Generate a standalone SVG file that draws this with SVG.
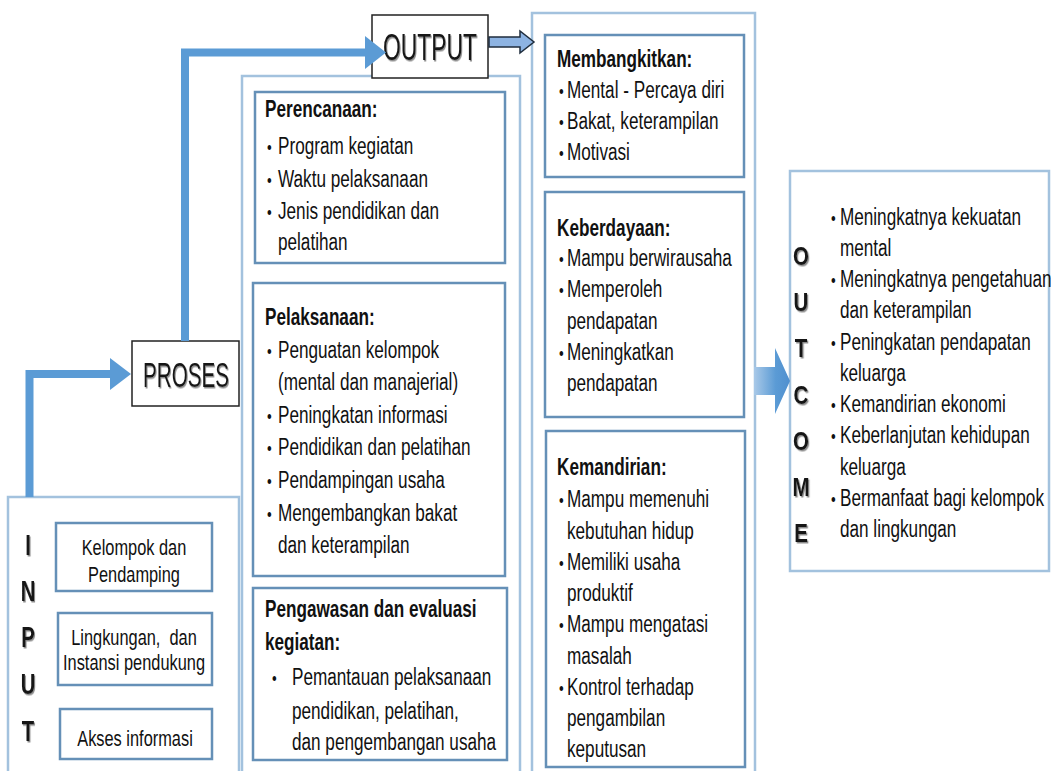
<svg xmlns="http://www.w3.org/2000/svg" width="1051" height="771" viewBox="0 0 1051 771">
<defs>
<style>
.t{font-family:"Liberation Sans",Arial,sans-serif;font-size:23px;fill:#111}
.h{font-weight:bold}
.b{font-size:18px}
.in{font-size:22px}
.big{font-family:"Liberation Sans",Arial,sans-serif;fill:#141414}
.outer{fill:none;stroke:#a3c2de;stroke-width:2.5}
.inner{fill:#fff;stroke:#6590b7;stroke-width:2.5}
.lbl{fill:#fff;stroke:#222;stroke-width:1.5}
.flow{fill:none;stroke:#5b9bd5;stroke-width:8;stroke-linejoin:miter}
.head{fill:#5b9bd5}
</style>
<filter id="sh" x="-20%" y="-20%" width="150%" height="150%">
<feDropShadow dx="1.5" dy="1.5" stdDeviation="0.6" flood-color="#808080" flood-opacity="0.9"/>
</filter>
<linearGradient id="ga" x1="0" y1="0" x2="1" y2="0">
<stop offset="0" stop-color="#a9c9e8"/>
<stop offset="0.6" stop-color="#5b9bd5"/>
<stop offset="1" stop-color="#4f8fcf"/>
</linearGradient>
</defs>
<rect width="1051" height="771" fill="#fff"/>

<g id="process-container"><rect class="outer" x="242" y="76" width="278" height="720"/></g>
<g id="output-container"><rect class="outer" x="532" y="13" width="223" height="780"/></g>

<g id="input">
<rect class="outer" x="8" y="497" width="231" height="300"/>
<g class="big" font-size="29" font-weight="bold" filter="url(#sh)" text-anchor="middle" transform="translate(28 0) scale(0.7 1)">
<text y="555">I</text>
<text y="601">N</text>
<text y="647">P</text>
<text y="694">U</text>
<text y="741">T</text>
</g>
</g>

<g id="input-kelompok">
<rect class="inner" x="56" y="523" width="156" height="68"/>
<g class="t in" text-anchor="middle" transform="translate(134 0) scale(0.745 1)">
<text x="0" y="555">Kelompok dan</text>
<text x="0" y="582">Pendamping</text>
</g>
</g>
<g id="input-lingkungan">
<rect class="inner" x="58" y="613" width="154" height="72"/>
<g class="t in" text-anchor="middle" transform="translate(134 0) scale(0.745 1)">
<text x="0" y="645" xml:space="preserve">Lingkungan,  dan</text>
<text x="0" y="670">Instansi pendukung</text>
</g>
</g>
<g id="input-akses">
<rect class="inner" x="60" y="709" width="152" height="50"/>
<g class="t in" text-anchor="middle" transform="translate(135 0) scale(0.745 1)">
<text x="0" y="746">Akses informasi</text>
</g>
</g>

<g id="proses">
<rect class="lbl" x="132" y="341" width="107" height="65"/>
<text class="big" font-size="35" text-anchor="middle" filter="url(#sh)" transform="translate(186 387) scale(0.59 1)">PROSES</text>
</g>

<g id="output">
<rect class="lbl" x="372" y="15" width="116" height="63"/>
<text class="big" font-size="36" text-anchor="middle" filter="url(#sh)" transform="translate(430 60) scale(0.635 1)">OUTPUT</text>
</g>

<g id="perencanaan">
<rect class="inner" x="255" y="92" width="250" height="171"/>
<g class="t" transform="translate(265 0) scale(0.746 1)">
<text class="h" x="0" y="117">Perencanaan:</text>
<text y="154"><tspan class="b" x="2.7">•</tspan><tspan x="17.4">Program kegiatan</tspan></text>
<text y="187"><tspan class="b" x="2.7">•</tspan><tspan x="17.4">Waktu pelaksanaan</tspan></text>
<text y="219"><tspan class="b" x="2.7">•</tspan><tspan x="17.4">Jenis pendidikan dan</tspan></text>
<text x="17.4" y="250">pelatihan</text>
</g>
</g>

<g id="pelaksanaan">
<rect class="inner" x="253" y="283" width="252" height="293"/>
<g class="t" transform="translate(265 0) scale(0.746 1)">
<text class="h" x="0" y="325">Pelaksanaan:</text>
<text y="357.6"><tspan class="b" x="2.7">•</tspan><tspan x="17.4">Penguatan kelompok</tspan></text>
<text x="17.4" y="390">(mental dan manajerial)</text>
<text y="422.7"><tspan class="b" x="2.7">•</tspan><tspan x="17.4">Peningkatan informasi</tspan></text>
<text y="455"><tspan class="b" x="2.7">•</tspan><tspan x="17.4">Pendidikan dan pelatihan</tspan></text>
<text y="488"><tspan class="b" x="2.7">•</tspan><tspan x="17.4">Pendampingan usaha</tspan></text>
<text y="520.6"><tspan class="b" x="2.7">•</tspan><tspan x="17.4">Mengembangkan bakat</tspan></text>
<text x="17.4" y="553">dan keterampilan</text>
</g>
</g>

<g id="pengawasan">
<rect class="inner" x="253" y="588" width="254" height="172"/>
<g class="t" transform="translate(265 0) scale(0.746 1)">
<text class="h" x="0" y="617">Pengawasan dan evaluasi</text>
<text class="h" x="0" y="650">kegiatan:</text>
<text y="685"><tspan class="b" x="9.4">•</tspan><tspan x="36.2">Pemantauan pelaksanaan</tspan></text>
<text x="36.2" y="719">pendidikan, pelatihan,</text>
<text x="36.2" y="750">dan pengembangan usaha</text>
</g>
</g>

<g id="membangkitkan">
<rect class="inner" x="545" y="35" width="199" height="142"/>
<g class="t" transform="translate(557 0) scale(0.746 1)">
<text class="h" x="0" y="67">Membangkitkan:</text>
<text y="98"><tspan class="b" x="2.7">•</tspan><tspan x="13.4">Mental - Percaya diri</tspan></text>
<text y="129"><tspan class="b" x="2.7">•</tspan><tspan x="13.4">Bakat, keterampilan</tspan></text>
<text y="160"><tspan class="b" x="2.7">•</tspan><tspan x="13.4">Motivasi</tspan></text>
</g>
</g>

<g id="keberdayaan">
<rect class="inner" x="545" y="192" width="199" height="225"/>
<g class="t" transform="translate(557 0) scale(0.746 1)">
<text class="h" x="0" y="236">Keberdayaan:</text>
<text y="266"><tspan class="b" x="2.7">•</tspan><tspan x="13.4">Mampu berwirausaha</tspan></text>
<text y="297"><tspan class="b" x="2.7">•</tspan><tspan x="13.4">Memperoleh</tspan></text>
<text x="13.4" y="329">pendapatan</text>
<text y="360"><tspan class="b" x="2.7">•</tspan><tspan x="13.4">Meningkatkan</tspan></text>
<text x="13.4" y="391">pendapatan</text>
</g>
</g>

<g id="kemandirian">
<rect class="inner" x="546" y="431" width="199" height="336"/>
<g class="t" transform="translate(557 0) scale(0.746 1)">
<text class="h" x="0" y="475">Kemandirian:</text>
<text y="507"><tspan class="b" x="2.7">•</tspan><tspan x="13.4">Mampu memenuhi</tspan></text>
<text x="13.4" y="539">kebutuhan hidup</text>
<text y="570"><tspan class="b" x="2.7">•</tspan><tspan x="13.4">Memiliki usaha</tspan></text>
<text x="13.4" y="601">produktif</text>
<text y="632"><tspan class="b" x="2.7">•</tspan><tspan x="13.4">Mampu mengatasi</tspan></text>
<text x="13.4" y="664">masalah</text>
<text y="695"><tspan class="b" x="2.7">•</tspan><tspan x="13.4">Kontrol terhadap</tspan></text>
<text x="13.4" y="726">pengambilan</text>
<text x="13.4" y="757">keputusan</text>
</g>
</g>

<g id="outcome">
<rect class="outer" x="790" y="171" width="259" height="400"/>
<g class="big" font-size="25" font-weight="bold" filter="url(#sh)" text-anchor="middle" transform="translate(801 0) scale(0.82 1)">
<text y="265">O</text>
<text y="311">U</text>
<text y="357.5">T</text>
<text y="403.6">C</text>
<text y="450">O</text>
<text y="496">M</text>
<text y="542">E</text>
</g>
<g class="t" transform="translate(831 0) scale(0.746 1)">
<text y="225"><tspan class="b" x="0">•</tspan><tspan x="12">Meningkatnya kekuatan</tspan></text>
<text x="12" y="256">mental</text>
<text y="287"><tspan class="b" x="0">•</tspan><tspan x="12">Meningkatnya pengetahuan</tspan></text>
<text x="12" y="318">dan keterampilan</text>
<text y="350"><tspan class="b" x="0">•</tspan><tspan x="12">Peningkatan pendapatan</tspan></text>
<text x="12" y="381">keluarga</text>
<text y="412"><tspan class="b" x="0">•</tspan><tspan x="12">Kemandirian ekonomi</tspan></text>
<text y="443"><tspan class="b" x="0">•</tspan><tspan x="12">Keberlanjutan kehidupan</tspan></text>
<text x="12" y="475">keluarga</text>
<text y="506"><tspan class="b" x="0">•</tspan><tspan x="12">Bermanfaat bagi kelompok</tspan></text>
<text x="12" y="537">dan lingkungan</text>
</g>
</g>

<g id="connectors">
<path class="flow" d="M29.5,497 V374 H112"/>
<polygon class="head" points="110,358 131,374 110,390"/>
<path class="flow" d="M185,341 V52.5 H367"/>
<polygon class="head" points="365,36 386,52.5 365,69"/>
<polygon points="489,37 520,37 520,31 534,42 520,53 520,47 489,47" fill="#8db3e2" stroke="#1f2d3d" stroke-width="1.5" stroke-linejoin="miter"/>
<polygon points="754,367 775,367 775,348 790,381 775,414 775,395 754,395" fill="url(#ga)"/>
</g>
</svg>
